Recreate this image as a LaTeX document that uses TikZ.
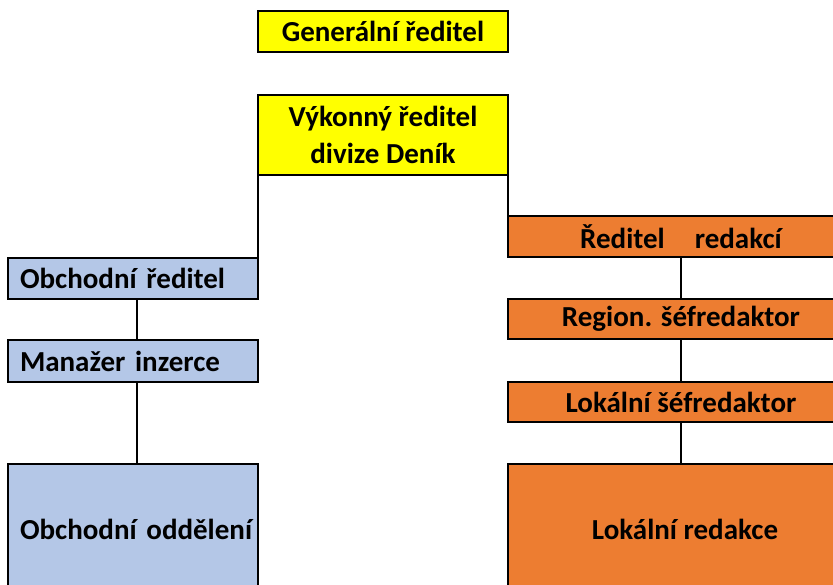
\documentclass[tikz,border=0pt]{standalone}
\usepackage{fontspec}
\setmainfont{Carlito}
\definecolor{boxyellow}{HTML}{FFFF00}
\definecolor{boxblue}{HTML}{B4C7E7}
\definecolor{boxorange}{HTML}{ED7D31}
\tikzset{
  base/.style={draw=black, line width=2.5pt, outer sep=0pt, inner sep=0pt,
    font=\fontsize{29}{37}\selectfont\bfseries},
  yellowbox/.style={base, fill=boxyellow, minimum width=250pt, align=center},
  bluebox/.style={base, fill=boxblue, text width=226pt, inner xsep=12pt, align=left},
  orangebox/.style={base, fill=boxorange, minimum width=346pt, align=center},
  conn/.style={draw=black, line width=2pt}
}
\begin{document}
\begin{tikzpicture}[x=1pt,y=-1pt]
\useasboundingbox[fill=white] (0,0) rectangle (833,584);
\node[yellowbox, minimum height=41pt] (gen) at (383,31.5) {Generální ředitel};
\node[yellowbox, minimum height=80pt] (vyk) at (383,135) {Výkonný ředitel\\divize Deník};
\node[bluebox, minimum height=41pt] (obr) at (133,278.5) {\mbox{Obchodní ředitel}};
\node[bluebox, minimum height=42pt] (man) at (133,361) {\mbox{Manažer inzerce}};
\node[bluebox, minimum height=130pt] (obo) at (133,529) {\mbox{Obchodní oddělení}};
\node[orangebox, minimum height=41pt] (red) at (681,236.5) {Ředitel\hspace{30pt}redakcí};
\node[orangebox, minimum height=40pt] (reg) at (681,319) {Region. šéfredaktor};
\node[orangebox, minimum height=40pt] (lsef) at (681,402) {Lokální šéfredaktor};
\node[orangebox, minimum height=130pt] (lred) at (681,529) {\hspace{8pt}Lokální redakce};
\draw[conn] (vyk.south west) -- (obr.north east);
\draw[conn] (vyk.south east) -- (red.north west);
\draw[conn] ([xshift=4pt]obr.south) -- ([xshift=4pt]man.north);
\draw[conn] ([xshift=4pt]man.south) -- ([xshift=4pt]obo.north);
\draw[conn] (red.south) -- (reg.north);
\draw[conn] (reg.south) -- (lsef.north);
\draw[conn] (lsef.south) -- (lred.north);
\end{tikzpicture}
\end{document}
